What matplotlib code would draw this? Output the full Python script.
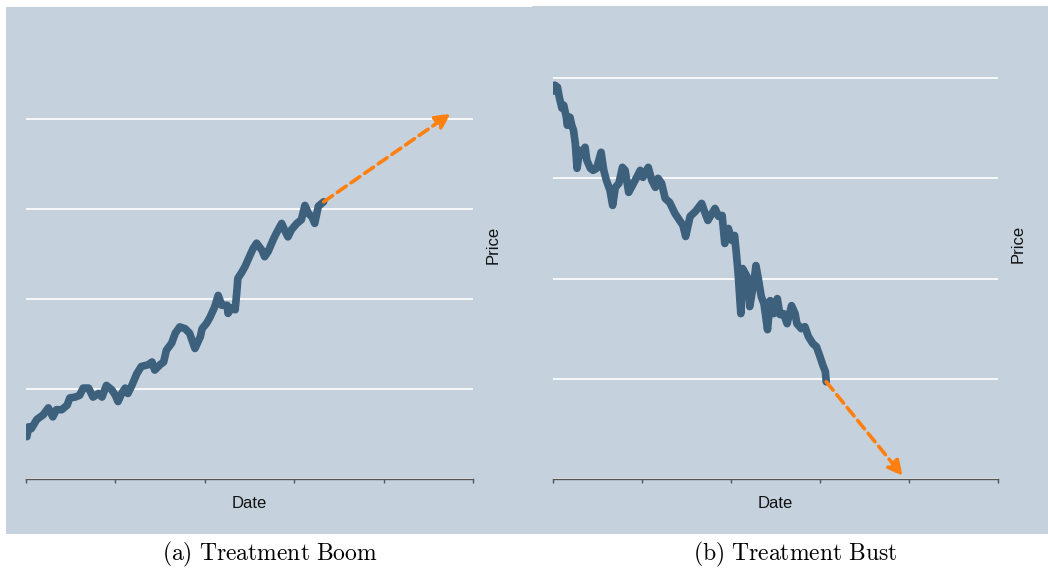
import matplotlib
matplotlib.use("Agg")
import matplotlib.pyplot as plt
from matplotlib.patches import Rectangle

plt.rcParams['mathtext.fontset'] = 'cm'
plt.rcParams['font.family'] = ['Liberation Sans', 'DejaVu Sans']

# =============================================================================
# DATA (x = date position, y = price level)
# =============================================================================

boom_x = [0.01, 0.03, 0.06, 0.12, 0.16, 0.19, 0.25, 0.30, 0.34, 0.40, 0.46,
          0.49, 0.55, 0.60, 0.64, 0.70, 0.75, 0.81, 0.85, 0.90, 0.96, 1.00,
          1.03, 1.07, 1.11, 1.14, 1.18, 1.24, 1.29, 1.37, 1.41, 1.44, 1.50,
          1.54, 1.57, 1.63, 1.67, 1.72, 1.78, 1.83, 1.89, 1.95, 1.97, 2.02,
          2.06, 2.11, 2.15, 2.19, 2.25, 2.26, 2.30, 2.34, 2.36, 2.37, 2.41,
          2.45, 2.49, 2.54, 2.58, 2.64, 2.67, 2.71, 2.77, 2.80, 2.86, 2.90,
          2.93, 2.97, 3.03, 3.08, 3.12, 3.16, 3.20, 3.23, 3.27, 3.33]
boom_y = [0.47, 0.58, 0.56, 0.66, 0.69, 0.71, 0.79, 0.69, 0.77, 0.77, 0.82,
          0.90, 0.91, 0.93, 1.01, 1.01, 0.91, 0.95, 0.91, 1.04, 0.99, 0.93,
          0.86, 0.95, 1.01, 0.95, 1.03, 1.17, 1.25, 1.27, 1.30, 1.21, 1.27,
          1.30, 1.43, 1.51, 1.62, 1.69, 1.67, 1.62, 1.45, 1.58, 1.67, 1.73,
          1.80, 1.91, 2.04, 1.93, 1.93, 1.84, 1.90, 1.88, 2.10, 2.23, 2.29,
          2.36, 2.45, 2.56, 2.62, 2.54, 2.47, 2.53, 2.67, 2.73, 2.84, 2.75,
          2.69, 2.77, 2.84, 2.88, 3.04, 2.95, 2.91, 2.84, 3.03, 3.08]
boom_target = (4.75, 4.06)

bust_x = [0.00, 0.02, 0.05, 0.07, 0.10, 0.12, 0.15, 0.16, 0.19, 0.21, 0.23,
          0.25, 0.27, 0.30, 0.32, 0.36, 0.38, 0.42, 0.45, 0.49, 0.54, 0.57,
          0.60, 0.64, 0.67, 0.70, 0.74, 0.78, 0.81, 0.85, 0.88, 0.94, 0.98,
          1.01, 1.04, 1.07, 1.11, 1.15, 1.18, 1.22, 1.26, 1.31, 1.37, 1.43,
          1.46, 1.49, 1.54, 1.60, 1.67, 1.71, 1.74, 1.82, 1.86, 1.90, 1.93,
          1.97, 2.01, 2.04, 2.06, 2.08, 2.11, 2.13, 2.18, 2.21, 2.26, 2.28,
          2.31, 2.34, 2.37, 2.41, 2.44, 2.48, 2.52, 2.55, 2.59, 2.63, 2.68,
          2.72, 2.74, 2.79, 2.83, 2.87, 2.92, 2.96, 3.00, 3.03, 3.06, 3.07]
bust_y = [3.87, 3.93, 3.91, 3.81, 3.70, 3.73, 3.61, 3.53, 3.61, 3.53, 3.48,
          3.35, 3.10, 3.28, 3.23, 3.31, 3.18, 3.10, 3.08, 3.10, 3.26, 3.08,
          2.98, 2.88, 2.73, 2.91, 2.95, 3.11, 3.08, 2.86, 2.91, 3.01, 3.08,
          3.01, 3.06, 3.11, 2.98, 2.91, 3.00, 2.95, 2.80, 2.76, 2.65, 2.57,
          2.53, 2.42, 2.62, 2.67, 2.75, 2.65, 2.58, 2.70, 2.62, 2.63, 2.35,
          2.50, 2.38, 2.43, 2.25, 2.05, 1.65, 2.10, 2.02, 1.72, 1.98, 2.13,
          1.98, 1.82, 1.75, 1.49, 1.78, 1.65, 1.80, 1.64, 1.65, 1.55, 1.73,
          1.65, 1.55, 1.50, 1.52, 1.42, 1.35, 1.32, 1.22, 1.14, 1.07, 0.97]
bust_target = (3.93, 0.03)

captions = [r'$\mathrm{(a)\ Treatment\ Boom}$', r'$\mathrm{(b)\ Treatment\ Bust}$']

# =============================================================================
# PLOTTING
# =============================================================================

bg = '#c5d2de'
line_c = '#3d607d'
arrow_c = '#ff800e'

fig = plt.figure(figsize=(10.48, 5.69), dpi=100)

# panel backgrounds (behind the axes)
fig.patches.append(Rectangle((0.0057, 0.0615), 0.502, 0.926, transform=fig.transFigure,
                             facecolor=bg, edgecolor='none', zorder=-10))
fig.patches.append(Rectangle((0.5076, 0.0615), 0.4924, 0.928, transform=fig.transFigure,
                             facecolor=bg, edgecolor='none', zorder=-10))

ax1 = fig.add_axes([0.0248, 0.1582, 0.4265, 0.8225])
ax2 = fig.add_axes([0.5277, 0.1582, 0.4246, 0.826])

panels = [(ax1, boom_x, boom_y, boom_target, 5.2),
          (ax2, bust_x, bust_y, bust_target, 4.69)]

for ax, xs, ys, target, ytop in panels:
    ax.set_facecolor('none')
    ax.plot(xs, ys, color=line_c, lw=5.5, solid_capstyle='round',
            solid_joinstyle='round', zorder=3)
    ax.annotate('', xy=target, xytext=(xs[-1], ys[-1]),
                arrowprops=dict(arrowstyle='-|>', color=arrow_c, lw=2.6,
                                linestyle=(0, (3, 1.6)), mutation_scale=22,
                                shrinkA=0, shrinkB=0), zorder=4)
    ax.set_xlim(0, 5)
    ax.set_ylim(0, ytop)
    ax.set_xticks(range(6))
    ax.set_xticklabels([])
    ax.set_yticks(range(5))
    ax.set_yticklabels([])
    ax.tick_params(axis='x', length=3, width=1, color='#555555', direction='out')
    ax.tick_params(axis='y', length=0)
    ax.grid(axis='y', color='white', lw=1.2)
    ax.set_axisbelow(True)
    for s in ['top', 'left', 'right']:
        ax.spines[s].set_visible(False)
    ax.spines['bottom'].set_color('#555555')
    ax.spines['bottom'].set_linewidth(1)
    ax.set_xlabel('Date', fontsize=12, labelpad=6, color='#111111')
    ax.yaxis.set_label_position('right')
    ax.set_ylabel('Price', fontsize=12, labelpad=9, color='#111111')

fig.text(0.257, 0.026, captions[0], fontsize=17, ha='center', va='center')
fig.text(0.759, 0.026, captions[1], fontsize=17, ha='center', va='center')

fig.savefig('out.png', dpi=100)
